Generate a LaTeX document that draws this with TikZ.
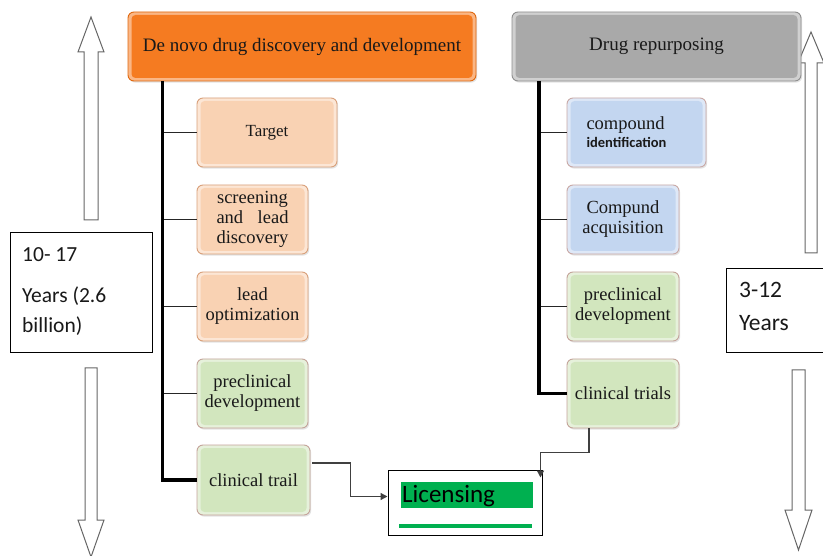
\documentclass[tikz,border=0pt]{standalone}
\usepackage{fontspec}
\setmainfont{Liberation Serif}
\newfontfamily\calib{Carlito}
\usetikzlibrary{arrows.meta,shadows,calc}
\definecolor{peachC}{HTML}{F9D2B3}
\definecolor{peachB}{HTML}{D9A07A}
\definecolor{greenC}{HTML}{D2E6BE}
\definecolor{greenB}{HTML}{C4A49A}
\definecolor{blueC}{HTML}{C3D6F0}
\definecolor{blueB}{HTML}{C9A9A6}
\definecolor{orangeC}{HTML}{F57B21}
\definecolor{orangeB}{HTML}{E0680E}
\definecolor{grayC}{HTML}{A9A9A9}
\definecolor{grayB}{HTML}{8E8E8E}
\definecolor{licgreen}{HTML}{00B050}
\tikzset{
  bev/.style n args={2}{rounded corners=6pt, draw=#2, line width=0.9pt,
    fill=#1!55!white,
    drop shadow={shadow xshift=1.2pt, shadow yshift=-1.6pt, opacity=0.22},
    path picture={\fill[#1, rounded corners=4pt]
      ([shift={(3.5pt,-3pt)}]path picture bounding box.north west) rectangle
      ([shift={(-3.5pt,3pt)}]path picture bounding box.south east);},
    inner sep=0pt, align=center, text=black!90},
  pbox/.style={bev={peachC}{peachB}, font=\fontsize{18.5}{20}\selectfont},
  gbox/.style={bev={greenC}{greenB}, font=\fontsize{18.5}{20}\selectfont},
  bbox/.style={bev={blueC}{blueB}, font=\fontsize{18.5}{20}\selectfont},
  obox/.style={bev={orangeC}{orangeB}, font=\fontsize{19}{21}\selectfont},
  hgbox/.style={bev={grayC}{grayB}, font=\fontsize{19}{21}\selectfont},
  trunk/.style={line width=3.6pt, black},
  branch/.style={line width=1.5pt, black!85},
  conn/.style={line width=1.3pt, black!75, -{Triangle[length=7pt,width=7pt]}},
  bigarrow/.style={draw=black!60, line width=1pt, fill=white},
  yearbox/.style={draw=black, line width=0.9pt, fill=white, inner sep=0pt},
  ytext/.style={inner sep=0pt, anchor=base west, text=black!90},
}
\begin{document}
\begin{tikzpicture}[x=1pt,y=-1pt]
\clip (0,0) rectangle (823,556);
\fill[white] (0,0) rectangle (823,556);

% big outline arrows
\draw[bigarrow] (84,220) -- (84,52) -- (78,52) -- (91,17) -- (104,52) -- (98,52) -- (98,220) -- cycle;
\draw[bigarrow] (85,368) -- (85,520) -- (78,520) -- (91,557) -- (104,520) -- (97,520) -- (97,368) -- cycle;
\draw[bigarrow] (805,253) -- (805,63) -- (798,63) -- (811,32) -- (824,63) -- (817,63) -- (817,253) -- cycle;
\draw[bigarrow] (792,370) -- (792,510) -- (785,510) -- (798.5,550) -- (812,510) -- (805,510) -- (805,370) -- cycle;

% year boxes
\node[yearbox, minimum width=142, minimum height=120] (lbox) at (81,292) {};
\node[ytext, font=\calib\fontsize{21.5}{24}\selectfont] (l1) at (22,262) {10- 17};
\node[ytext, font=\calib\fontsize{21.5}{24}\selectfont] (l2) at (22,303) {Years (2.6};
\node[ytext, font=\calib\fontsize{21.5}{24}\selectfont] (l3) at (22,333) {billion)};
\node[yearbox, minimum width=104, minimum height=84] (rbox) at (778,310) {};
\node[ytext, font=\calib\fontsize{23.5}{26}\selectfont] (r1) at (739,298) {3-12};
\node[ytext, font=\calib\fontsize{23.5}{26}\selectfont] (r2) at (739,331) {Years};

% headers
\node[obox, minimum width=348, minimum height=69] (denovo) at (302,46.5) {De novo drug discovery and development};
\node[hgbox, minimum width=289, minimum height=69] (repurp) at (656.5,46.5) {Drug repurposing};

% left column
\node[pbox, minimum width=140, minimum height=69, font=\fontsize{17}{19}\selectfont] (target) at (267,132.5) {Target};
\node[pbox, minimum width=111, minimum height=69] (screen) at (252.5,219.5) {screening\\\hbox to 72pt{and\hfill lead}\\discovery};
\node[pbox, minimum width=111, minimum height=69] (leadopt) at (252.5,306.5) {lead\\optimization};
\node[gbox, minimum width=111, minimum height=69] (lpre) at (252.5,393.5) {preclinical\\development};
\node[gbox, minimum width=113, minimum height=70] (ctrail) at (253.5,480) {clinical trail};

% right column
\node[bbox, minimum width=139, minimum height=69, align=left, text width=100pt] (cid) at (636.5,132.5) {compound\\[-2pt]{\calib\bfseries\fontsize{14.5}{16}\selectfont identification}};
\node[bbox, minimum width=112, minimum height=69] (cacq) at (623,219.5) {Compund\\acquisition};
\node[gbox, minimum width=112, minimum height=69] (rpre) at (623,306.5) {preclinical\\development};
\node[gbox, minimum width=112, minimum height=69] (ctrials) at (623,393.5) {clinical trials};

% trunks and branches
\coordinate (ltop) at (162.5,81);
\coordinate (rtop) at (539,81);
\draw[branch] (target.west) -- (target.west -| ltop);
\draw[branch] (screen.west) -- (screen.west -| ltop);
\draw[branch] (leadopt.west) -- (leadopt.west -| ltop);
\draw[branch] (lpre.west) -- (lpre.west -| ltop);
\draw[trunk] (ltop) |- (ctrail.west);
\draw[branch] (cid.west) -- (cid.west -| rtop);
\draw[branch] (cacq.west) -- (cacq.west -| rtop);
\draw[branch] (rpre.west) -- (rpre.west -| rtop);
\draw[trunk] (rtop) |- (ctrials.west);

% licensing
\node[draw=black, line width=1pt, fill=white, minimum width=154, minimum height=65, inner sep=0pt] (lic) at (465,502.5) {};
\node[fill=licgreen, minimum width=132, minimum height=26, inner sep=0pt, anchor=north west] (licbar) at (401,482) {};
\node[font=\calib\fontsize{25}{25}\selectfont, anchor=base west, inner sep=0pt] (lict) at (402,502) {Licensing};
\node[fill=licgreen, minimum width=133, minimum height=4, inner sep=0pt, anchor=north west] (licline) at (399,524) {};

% connectors to licensing
\coordinate (c1s) at ($(ctrail.east)+(2,-17)$);
\coordinate (c1e) at ($(lic.west)+(0,-6)$);
\draw[conn] (c1s) -- ++(38,0) |- (c1e);
\coordinate (c2s) at ($(ctrials.south)+(-34,0)$);
\coordinate (c2e) at ($(lic.north east)+(-2,8)$);
\draw[conn] (c2s) -- ++(0,24) -| (c2e);
\end{tikzpicture}
\end{document}
